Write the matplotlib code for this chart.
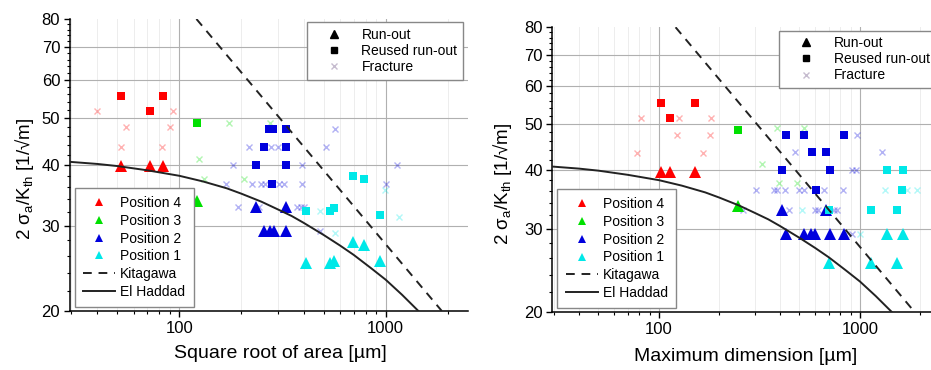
import matplotlib
matplotlib.use("Agg")
import matplotlib.pyplot as plt
from matplotlib.lines import Line2D
from matplotlib.ticker import FixedLocator, NullFormatter

plt.rcParams['font.family'] = ['Liberation Sans', 'DejaVu Sans']
plt.rcParams['mathtext.fontset'] = 'custom'
plt.rcParams['mathtext.rm'] = 'Liberation Sans'
plt.rcParams['mathtext.it'] = 'Liberation Sans:italic'

# ---- data: left panel, square root of area [um] vs 2*sigma_a/K_th ----
area_p4_runout = [(52, 39.9), (72, 39.9), (83, 39.9)]
area_p4_reused = [(52, 55.6), (72, 51.6), (83, 55.6)]
area_p4_fracture = [(40, 51.6), (93, 51.6), (55, 47.8), (90, 47.8), (52, 43.6), (82, 43.6)]

area_p3_runout = [(122, 33.7)]
area_p3_reused = [(122, 48.8)]
area_p3_fracture = [(174, 48.8), (276, 48.8), (125, 41.1), (131, 37.5), (205, 37.5)]

area_p2_runout = [(236, 32.8), (327, 32.8), (257, 29.3), (276, 29.3), (289, 29.3), (327, 29.3)]
area_p2_reused = [(272, 47.4), (285, 47.4), (327, 47.4), (257, 43.6), (327, 43.6),
                  (236, 40.0), (327, 40.0), (280, 36.5)]
area_p2_fracture = [(565, 47.4), (217, 43.6), (278, 43.6), (301, 43.6), (512, 43.6),
                    (183, 40.0), (394, 40.0), (1135, 40.0), (168, 36.5), (225, 36.5),
                    (250, 36.5), (259, 36.5), (305, 36.5), (320, 36.5), (394, 36.5),
                    (1008, 36.5), (192, 32.8), (244, 32.8), (371, 32.8), (390, 32.8),
                    (404, 32.8), (482, 29.3)]

area_p1_runout = [(412, 25.1), (539, 25.1), (561, 25.4), (693, 27.7), (785, 27.3), (935, 25.4)]
area_p1_reused = [(412, 32.2), (539, 32.1), (561, 32.6), (693, 37.9), (785, 37.5), (935, 31.6)]
area_p1_fracture = [(482, 32.1), (565, 28.9), (1160, 31.3), (988, 35.6)]

# ---- data: right panel, maximum dimension [um] ----
dim_p4_runout = [(102, 39.5), (113, 39.5), (151, 39.5)]
dim_p4_reused = [(102, 55.3), (113, 51.4), (152, 55.3)]
dim_p4_fracture = [(81, 51.4), (126, 51.4), (181, 51.4), (123, 47.4), (179, 47.4),
                   (77.5, 43.4), (166, 43.4)]

dim_p3_runout = [(248, 33.5)]
dim_p3_reused = [(248, 48.6)]
dim_p3_fracture = [(385, 48.9), (528, 48.9), (324, 41.1), (397, 37.5), (484, 37.5)]

dim_p2_runout = [(408, 32.8), (675, 32.8), (428, 29.2), (526, 29.2), (570, 29.2),
                 (597, 29.2), (709, 29.2), (833, 29.2)]
dim_p2_reused = [(428, 47.3), (526, 47.3), (833, 47.3), (575, 43.5), (675, 43.5),
                 (408, 40.0), (709, 40.0), (602, 36.3)]
dim_p2_fracture = [(963, 47.3), (475, 43.5), (1282, 43.5), (915, 40.0), (952, 40.0),
                   (304, 36.3), (373, 36.3), (388, 36.3), (424, 36.3), (497, 36.3),
                   (528, 36.3), (662, 36.3), (826, 36.3), (263, 32.8), (443, 32.8),
                   (597, 32.8), (620, 32.8), (742, 32.8), (771, 32.8), (915, 29.2)]

dim_p1_runout = [(703, 25.4), (1134, 25.4), (1533, 25.4), (1367, 29.2), (1642, 29.2)]
dim_p1_reused = [(703, 32.8), (1134, 32.8), (1522, 32.8), (1358, 40.0), (1642, 40.0), (1612, 36.3)]
dim_p1_fracture = [(1332, 36.3), (1707, 36.3), (1914, 36.3), (516, 32.8), (1000, 29.2)]

# threshold curves
kitagawa_x = [121, 1870]
kitagawa_y = [80, 20]
elhaddad_x = [29.5, 40, 50, 70, 100, 130, 170, 200, 250, 300, 350, 400, 500,
              600, 700, 850, 1000, 1200, 1440]
elhaddad_y = [40.6, 40.2, 39.8, 39.0, 38.0, 37.0, 35.8, 34.9, 33.6, 32.4, 31.4, 30.4, 28.7,
              27.3, 26.1, 24.5, 23.2, 21.6, 20.0]

positions = ['Position 4', 'Position 3', 'Position 2', 'Position 1']
colors = ['#FF0000', '#00E000', '#0000DD', '#00E8E8']

area_groups = [
    (area_p4_runout, area_p4_reused, area_p4_fracture),
    (area_p3_runout, area_p3_reused, area_p3_fracture),
    (area_p2_runout, area_p2_reused, area_p2_fracture),
    (area_p1_runout, area_p1_reused, area_p1_fracture),
]
dim_groups = [
    (dim_p4_runout, dim_p4_reused, dim_p4_fracture),
    (dim_p3_runout, dim_p3_reused, dim_p3_fracture),
    (dim_p2_runout, dim_p2_reused, dim_p2_fracture),
    (dim_p1_runout, dim_p1_reused, dim_p1_fracture),
]

ylabel = '2 σ$_\\mathrm{a}$/K$_\\mathrm{th}$ [1/√m]'


def xy(points):
    return [p[0] for p in points], [p[1] for p in points]


def draw_panel(ax, groups, xlabel, xlabel_pos, ylabel_pos):
    for (runout, reused, fracture), color in zip(groups, colors):
        x, y = xy(fracture)
        ax.plot(x, y, 'x', color=color, alpha=0.3, ms=4, mew=1, zorder=3)
        x, y = xy(reused)
        ax.plot(x, y, 's', color=color, ms=6.3, mew=0, zorder=4)
        x, y = xy(runout)
        ax.plot(x, y, '^', color=color, ms=8, mew=0, zorder=4)

    ax.plot(kitagawa_x, kitagawa_y, color='#222222', lw=1.4, ls=(0, (4.5, 3.5)), zorder=5)
    ax.plot(elhaddad_x, elhaddad_y, color='#222222', lw=1.4, zorder=5)

    ax.set_xscale('log')
    ax.set_yscale('log')
    ax.set_xlim(29.5, 2500)
    ax.set_ylim(20, 80)

    ax.xaxis.set_major_locator(FixedLocator([100, 1000]))
    ax.xaxis.set_minor_locator(FixedLocator([30, 40, 50, 60, 70, 80, 90,
                                             200, 300, 400, 500, 600, 700, 800, 900, 2000]))
    ax.xaxis.set_minor_formatter(NullFormatter())
    ax.set_xticklabels(['100', '1000'])
    ax.yaxis.set_major_locator(FixedLocator([20, 30, 40, 50, 60, 70, 80]))
    ax.yaxis.set_minor_locator(FixedLocator([v for v in range(22, 80, 2) if v % 10]))
    ax.yaxis.set_minor_formatter(NullFormatter())
    ax.set_yticklabels(['20', '30', '40', '50', '60', '70', '80'])

    ax.tick_params(which='major', direction='out', length=4, width=1, labelsize=12, pad=3)
    ax.tick_params(which='minor', direction='out', length=2.2, width=0.8)

    ax.grid(which='major', color='#B0B0B0', lw=0.8, zorder=0)
    ax.grid(which='minor', axis='x', color='#EDEDED', lw=0.7, zorder=0)
    ax.get_ygridlines()[-1].set_visible(False)
    ax.get_ygridlines()[0].set_visible(False)
    ax.set_axisbelow(True)

    for side in ['top', 'right']:
        ax.spines[side].set_visible(False)
    for side in ['left', 'bottom']:
        ax.spines[side].set_linewidth(1.1)

    ax.set_xlabel(xlabel, fontsize=14)
    ax.set_ylabel(ylabel, fontsize=13.5)
    ax.xaxis.set_label_coords(*xlabel_pos)
    ax.yaxis.set_label_coords(*ylabel_pos)

    type_handles = [
        Line2D([], [], ls='none', marker='^', color='black', ms=6),
        Line2D([], [], ls='none', marker='s', color='black', ms=5),
        Line2D([], [], ls='none', marker='x', color='#A090B0', alpha=0.6, ms=4, mew=1),
    ]
    leg1 = ax.legend(type_handles, ['Run-out', 'Reused run-out', 'Fracture'],
                     loc='upper right', bbox_to_anchor=(0.988, 0.988), borderaxespad=0,
                     fontsize=10, fancybox=False, edgecolor='#888888', framealpha=1,
                     handlelength=3.1, handletextpad=0.45, borderpad=0.4,
                     labelspacing=0.15)
    ax.add_artist(leg1)

    pos_handles = [Line2D([], [], ls='none', marker='^', color=c, ms=6, mew=0) for c in colors]
    pos_handles.append(Line2D([], [], color='#222222', lw=1.4, ls=(0, (4.5, 3.5))))
    pos_handles.append(Line2D([], [], color='#222222', lw=1.4))
    leg2 = ax.legend(pos_handles, positions + ['Kitagawa', 'El Haddad'],
                     loc='lower left', bbox_to_anchor=(0.013, 0.013), borderaxespad=0,
                     fontsize=10, fancybox=False, edgecolor='#888888', framealpha=1,
                     handlelength=2.3, handletextpad=0.35, borderpad=0.6,
                     labelspacing=0.27)
    leg2.set_zorder(6)


fig = plt.figure(figsize=(9.31, 3.70), dpi=100)
ax_left = fig.add_axes([0.0751, 0.1595, 0.4274, 0.7892])
ax_right = fig.add_axes([0.5933, 0.1568, 0.4163, 0.7695])

draw_panel(ax_left, area_groups, 'Square root of area [µm]', (0.528, -0.116), (-0.085, 0.452))
draw_panel(ax_right, dim_groups, 'Maximum dimension [µm]', (0.4995, -0.126), (-0.10, 0.449))

fig.savefig('out.png', dpi=100)
